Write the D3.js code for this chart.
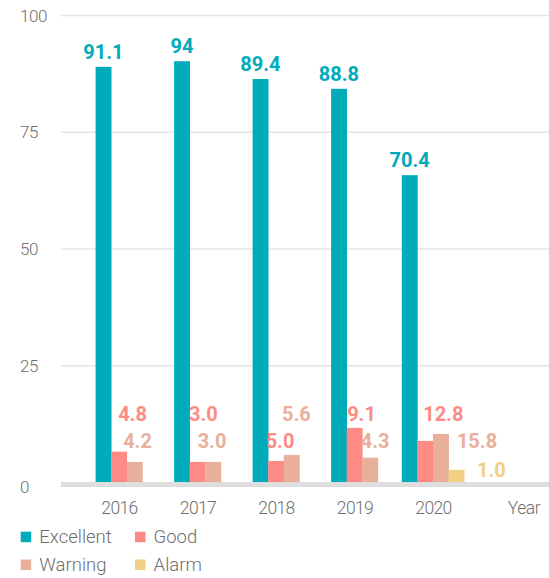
<!DOCTYPE html>
<html><head><meta charset="utf-8">
<script src="https://cdn.jsdelivr.net/npm/d3@7"></script>
<style>
body{margin:0;background:#fff}
svg{display:block;font-family:Roboto,"DejaVu Sans",sans-serif}
</style>
</head><body>
<svg id="c" width="549" height="578"></svg>
<script>
// ---- data ----
const years = ["2016", "2017", "2018", "2019", "2020"];
const seriesNames = ["Excellent", "Good", "Warning", "Alarm"];
const excellent = [88.9, 90.1, 86.3, 84.2, 65.7];
const good = [6.5, 4.3, 4.5, 11.6, 8.8];
const warning = [4.3, 4.3, 5.8, 5.2, 10.3];
const alarm = [null, null, null, null, 2.6];
const excellentLabels = ["91.1", "94", "89.4", "88.8", "70.4"];
const goodLabels = ["4.8", "3.0", "5.0", "9.1", "12.8"];
const warningLabels = ["4.2", "3.0", "5.6", "4.3", "15.8"];
const alarmLabels = [null, null, null, null, "1.0"];
const yTicks = [0, 25, 50, 75, 100];
const xAxisName = "Year";

// ---- styles / layout ----
const colors = {Excellent: "#00abba", Good: "#fd8a84", Warning: "#e8b09a", Alarm: "#f1cf84"};
const textGrey = "#6e6e6e";
const fontFam = 'Roboto, "DejaVu Sans", sans-serif';
const barW = 15.6;
// small-label placement: [x shift from category centre, row]
const labelPlace = {
  Good:    [[13.5, 0], [5.8, 0], [4, 1], [7, 0], [10.3, 0]],
  Warning: [[18.5, 1], [14.5, 1], [20.3, 0], [20.6, 1], [44, 1]],
  Alarm:   [null, null, null, null, [58.3, 2]]
};
const rowLift = [61, 33.7, 4.7];

const valuesBy = {Excellent: excellent, Good: good, Warning: warning, Alarm: alarm};
const labelsBy = {Excellent: excellentLabels, Good: goodLabels, Warning: warningLabels, Alarm: alarmLabels};

const svg = d3.select("#c");
const left = 61, right = 549;

const y = d3.scaleLinear().domain([0, 100]).range([482, 15]);
const x = d3.scalePoint().domain(years).range([119, 433]);

// y axis + gridlines
const yAxis = svg.append("g")
  .attr("transform", `translate(${left},0)`)
  .call(d3.axisLeft(y).tickValues(yTicks).tickSize(-(right - left)).tickPadding(0))
  .attr("font-family", fontFam);
yAxis.select(".domain").remove();
yAxis.selectAll(".tick line").attr("stroke", "#e4e4e4").attr("stroke-width", 1.4);
yAxis.selectAll(".tick text")
  .attr("x", 20 - left)
  .attr("text-anchor", "start")
  .attr("fill", textGrey)
  .style("font-size", "17px")
  .style("font-weight", "300")
  .style("letter-spacing", "-0.4px")
  .attr("dy", "0.36em");
yAxis.selectAll(".tick").filter(d => d === 0).select("text").attr("dy", "0.6em");
yAxis.selectAll(".tick").filter(d => d === 0).select("line").remove();

// x axis base (thick grey band)
svg.append("rect")
  .attr("x", left).attr("y", y(0))
  .attr("width", right - left).attr("height", 5)
  .attr("fill", "#dedede");

// x axis labels
const xAxis = svg.append("g")
  .attr("transform", `translate(0,${y(0)})`)
  .call(d3.axisBottom(x).tickSize(0).tickPadding(0))
  .attr("font-family", fontFam);
xAxis.select(".domain").remove();
xAxis.selectAll(".tick text")
  .attr("y", 32).attr("dy", 0)
  .attr("fill", textGrey)
  .style("font-size", "17.5px")
  .style("font-weight", "300")
  .style("letter-spacing", "-0.6px");
svg.append("text")
  .attr("x", 524).attr("y", y(0) + 32)
  .attr("text-anchor", "middle")
  .attr("fill", textGrey)
  .style("font-size", "17.5px")
  .style("font-weight", "300")
  .style("letter-spacing", "-0.4px")
  .text(xAxisName);

// bars
const barData = [];
years.forEach((yr, i) => {
  const present = seriesNames.filter(s => valuesBy[s][i] != null);
  const cx = x(yr);
  const inner = d3.scaleBand().domain(present)
    .range([cx - present.length * barW / 2, cx + present.length * barW / 2]);
  present.forEach(s => barData.push({year: yr, i, s, v: valuesBy[s][i], x0: inner(s), w: inner.bandwidth()}));
});

svg.append("g").selectAll("rect").data(barData).join("rect")
  .attr("x", d => d.x0)
  .attr("y", d => y(d.v))
  .attr("width", d => d.w + 0.3)
  .attr("height", d => y(0) - y(d.v))
  .attr("fill", d => colors[d.s]);

// value labels
const lbl = svg.append("g").style("font-weight", "bold").style("font-size", "20px");
barData.forEach(d => {
  const t = labelsBy[d.s][d.i];
  if (t == null) return;
  let lx, ly;
  if (d.s === "Excellent") {
    lx = d.x0 + d.w / 2;
    ly = y(d.v) - 8;
  } else {
    const p = labelPlace[d.s][d.i];
    lx = x(d.year) + p[0];
    ly = y(0) - rowLift[p[1]];
  }
  lbl.append("text").attr("x", lx).attr("y", ly)
    .attr("text-anchor", "middle")
    .attr("fill", colors[d.s])
    .text(t);
});

// legend
const legendPos = [[20.7, 531.7], [135, 531.7], [20.7, 559.5], [135, 559.5]];
const lg = svg.append("g").selectAll("g").data(seriesNames).join("g")
  .attr("transform", (d, i) => `translate(${legendPos[i][0]},${legendPos[i][1]})`);
lg.append("rect").attr("width", 10.5).attr("height", 10.5).attr("fill", d => colors[d]);
lg.append("text").attr("x", 18.6).attr("y", 11)
  .attr("fill", textGrey).style("font-size", "18.5px").style("font-weight", "300")
  .text(d => d);
</script>
</body></html>
